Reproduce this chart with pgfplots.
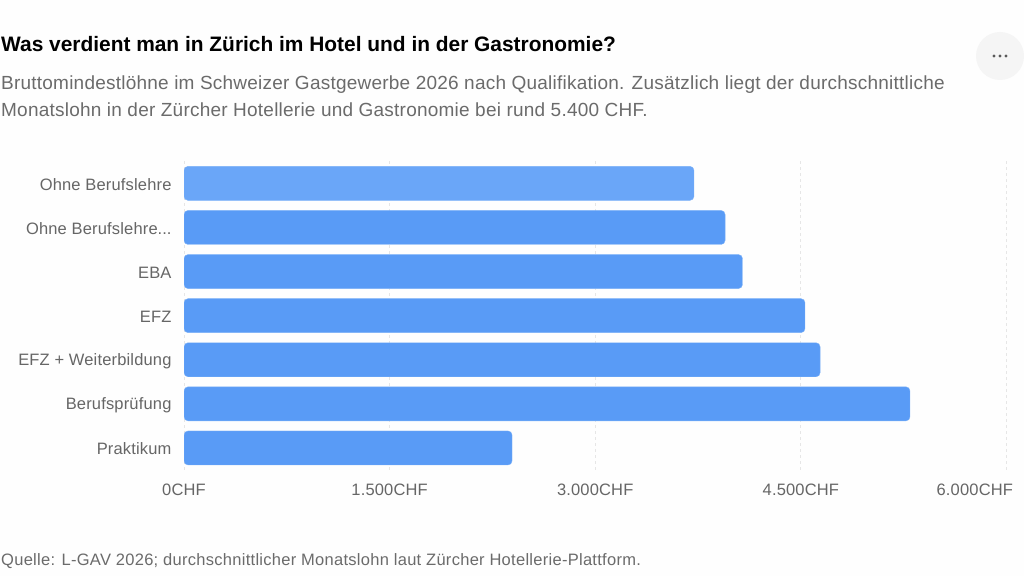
\documentclass[border=0pt]{standalone}
\usepackage{fontspec}
\setmainfont{Liberation Sans}
\newfontfamily\subfont[LetterSpace=1.2]{Liberation Sans}
\newfontfamily\srcfont[LetterSpace=1.7]{Liberation Sans}
\newfontfamily\tickfont[LetterSpace=1.0]{Liberation Sans}
\usepackage{pgfplots}
\pgfplotsset{compat=1.18}
\definecolor{bg}{HTML}{FEFEFE}
\definecolor{barblue}{HTML}{599BF6}
\definecolor{barhover}{HTML}{6AA6F8}
\definecolor{baredge}{HTML}{7DB2F8}
\definecolor{gridc}{HTML}{E6E6E6}
\definecolor{txt}{HTML}{666666}
\definecolor{subtxt}{HTML}{6B6B6B}
\newcommand{\cutlabel}{Ohne Berufslehre\kern0pt.\kern0pt.\kern0pt.}
\begin{document}
\begin{tikzpicture}[x=1pt,y=1pt]
\path[use as bounding box,fill=bg] (0,0) rectangle (1024,576);
% heading and source
\node[anchor=base west,inner sep=0,font=\fontsize{20.9}{24}\selectfont\bfseries,text=black] at (1,576-52) {Was verdient man in Zürich im Hotel und in der Gastronomie?};
\node[anchor=base west,inner sep=0,font=\subfont\fontsize{19}{22}\selectfont,text=subtxt] at (1,576-90) {Bruttomindestlöhne im Schweizer Gastgewerbe 2026 nach Qualifikation. Zusätzlich liegt der durchschnittliche};
\node[anchor=base west,inner sep=0,font=\subfont\fontsize{19}{22}\selectfont,text=subtxt] at (1,576-117) {Monatslohn in der Zürcher Hotellerie und Gastronomie bei rund 5.400 CHF.};
\node[anchor=base west,inner sep=0,font=\srcfont\fontsize{16.5}{18}\selectfont,text=subtxt] at (1,576-565) {Quelle: L-GAV 2026; durchschnittlicher Monatslohn laut Zürcher Hotellerie-Plattform.};
% menu button
\fill[black!4] (1000,576-56) circle (24);
\foreach \dx in {-6,0,6} \fill[black!65] (1000+\dx,576-56) circle (1.6);
\begin{axis}[
    at={(184pt,106pt)},anchor=south west,
    scale only axis,width=822.5pt,height=308.7pt,
    xmin=0,xmax=6000,
    ymin=-0.5,ymax=6.5,y dir=reverse,
    axis line style={draw=none},
    major tick length=0pt,
    xtick={0,1500,3000,4500,6000},
    xticklabels={0CHF,1.500CHF,3.000CHF,4.500CHF,\makebox[0pt][r]{6.000CHF\hspace*{-6.5pt}}},
    ytick={0,1,2,3,4,5,6},
    yticklabels={Ohne Berufslehre,\cutlabel,EBA,EFZ,EFZ + Weiterbildung,Berufsprüfung,Praktikum},
    tick label style={font=\tickfont\fontsize{16.5}{18}\selectfont,text=txt},
    /pgf/number format/assume math mode=true,
    yticklabel style={xshift=-9pt,yshift=-1pt},
    xticklabel style={yshift=-10.5pt},
    xmajorgrids=true,
    grid style={gridc,dashed,line width=0.8pt},
    xbar,bar width=34pt,bar shift=0pt,
]
\addplot[fill=barhover,draw=baredge,rounded corners=4pt] coordinates {(3720,0)};
\addplot[fill=barblue,draw=baredge,rounded corners=4pt] coordinates {
(3947,1)
(4074,2)
(4530,3)
(4640,4)
(5296,5)
(2393,6)
};
\end{axis}
\end{tikzpicture}
\end{document}
